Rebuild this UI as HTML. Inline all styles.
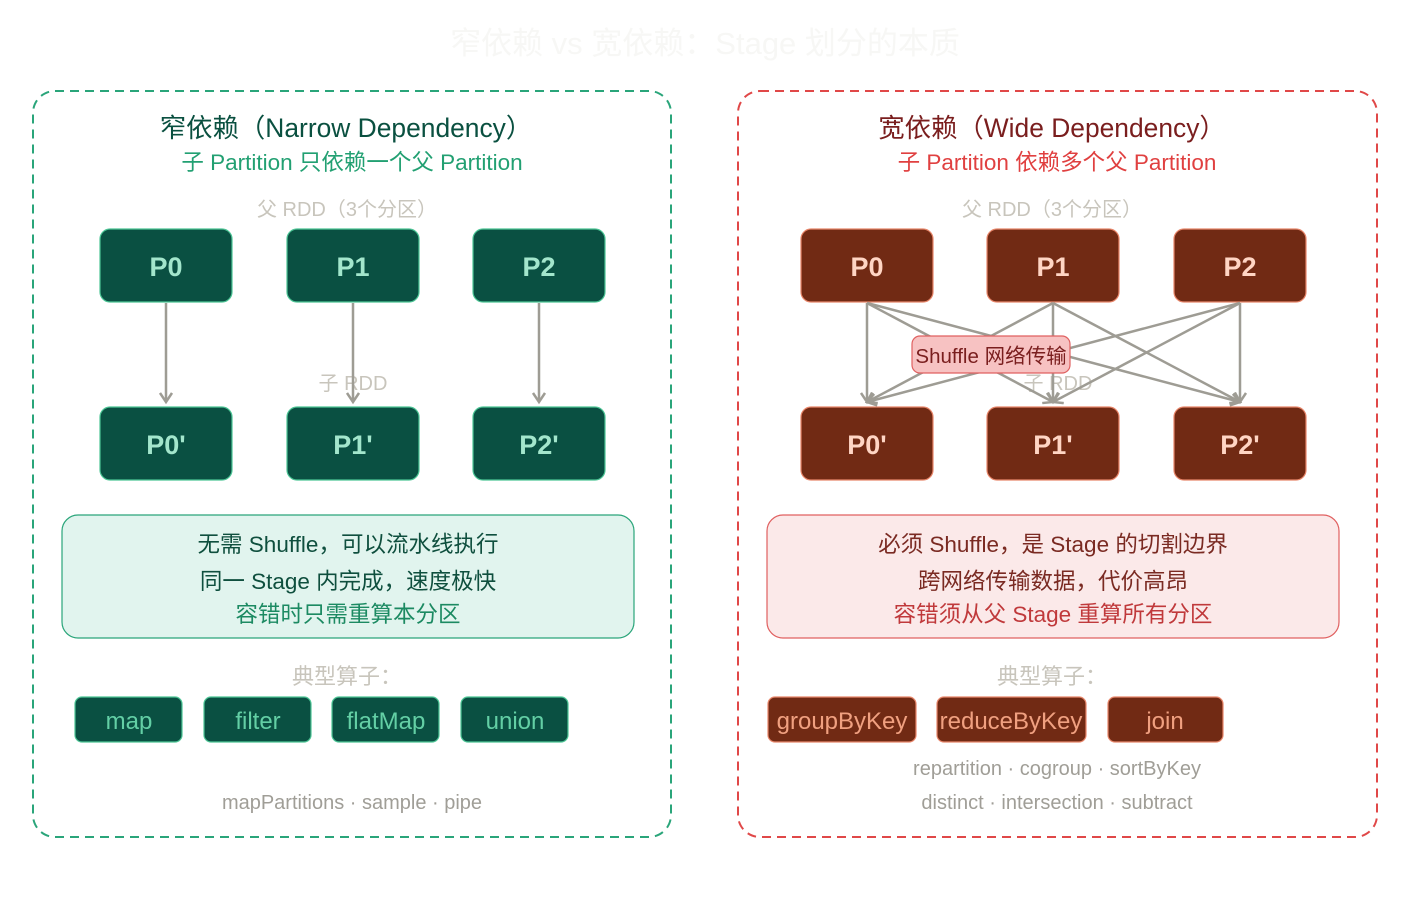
<!DOCTYPE html>
<html><head><meta charset="utf-8"><style>
html,body{margin:0;padding:0;background:#fff;}
svg{display:block;font-family:"Liberation Sans","Noto Sans CJK SC",sans-serif;}
</style></head><body>
<svg width="1410" height="912" viewBox="0 0 1410 912" xmlns="http://www.w3.org/2000/svg">
<defs>
<marker id="ah" markerWidth="14" markerHeight="14" refX="10" refY="7" orient="auto" markerUnits="userSpaceOnUse">
<path d="M1,1 L10,7 L1,13" fill="none" stroke="#9e9c94" stroke-width="2.5"/>
</marker>
</defs>
<text x="705" y="54" text-anchor="middle" font-size="31" fill="#f7f7f5">窄依赖 vs 宽依赖：Stage 划分的本质</text>

<!-- LEFT -->
<rect x="33" y="91" width="638" height="746" rx="22" fill="none" stroke="#2aa57a" stroke-width="2" stroke-dasharray="9,6"/>
<text x="346" y="137" text-anchor="middle" font-size="26.4" fill="#0a5040">窄依赖（Narrow Dependency）</text>
<text x="352" y="170" text-anchor="middle" font-size="22.5" fill="#22a072">子 Partition 只依赖一个父 Partition</text>
<text x="347" y="216" text-anchor="middle" font-size="20" fill="#c8c5bc">父 RDD（3个分区）</text>
<g fill="#0a5042" stroke="#4cc595" stroke-width="1.2">
<rect x="100" y="229" width="132" height="73" rx="10"/><rect x="287" y="229" width="132" height="73" rx="10"/><rect x="473" y="229" width="132" height="73" rx="10"/>
<rect x="100" y="407" width="132" height="73" rx="10"/><rect x="287" y="407" width="132" height="73" rx="10"/><rect x="473" y="407" width="132" height="73" rx="10"/>
</g>
<g font-size="27" font-weight="bold" fill="#a3e6cc" text-anchor="middle">
<text x="166" y="276">P0</text><text x="353" y="276">P1</text><text x="539" y="276">P2</text>
<text x="166" y="454">P0'</text><text x="353" y="454">P1'</text><text x="539" y="454">P2'</text>
</g>
<text x="353" y="390" text-anchor="middle" font-size="20" fill="#c8c5bc">子 RDD</text>
<g stroke="#9e9c94" stroke-width="2.5" marker-end="url(#ah)">
<line x1="166" y1="303" x2="166" y2="402"/><line x1="353" y1="303" x2="353" y2="402"/><line x1="539" y1="303" x2="539" y2="402"/>
</g>
<rect x="62" y="515" width="572" height="123" rx="16" fill="#e1f4ee" stroke="#2aa57a" stroke-width="1.2"/>
<g font-size="22.5" text-anchor="middle">
<text x="348" y="552" fill="#0f4f3e">无需 Shuffle，可以流水线执行</text>
<text x="348" y="589" fill="#0f4f3e">同一 Stage 内完成，速度极快</text>
<text x="348" y="622" fill="#1c8a62">容错时只需重算本分区</text>
</g>
<text x="347" y="684" text-anchor="middle" font-size="22" fill="#c8c5bc">典型算子：</text>
<g fill="#0a5042" stroke="#4cc595" stroke-width="1.2">
<rect x="75" y="697" width="107" height="45" rx="7"/><rect x="204" y="697" width="107" height="45" rx="7"/><rect x="332" y="697" width="107" height="45" rx="7"/><rect x="461" y="697" width="107" height="45" rx="7"/>
</g>
<g font-size="24" fill="#63cfa5" text-anchor="middle">
<text x="129" y="729">map</text><text x="258" y="729">filter</text><text x="386" y="729">flatMap</text><text x="515" y="729">union</text>
</g>
<text x="352" y="809" text-anchor="middle" font-size="20" fill="#a09e97">mapPartitions · sample · pipe</text>

<!-- RIGHT -->
<rect x="738" y="91" width="639" height="746" rx="22" fill="none" stroke="#e04848" stroke-width="2" stroke-dasharray="9,6"/>
<text x="1052" y="137" text-anchor="middle" font-size="26.4" fill="#7a1e1e">宽依赖（Wide Dependency）</text>
<text x="1057" y="170" text-anchor="middle" font-size="22.5" fill="#e04040">子 Partition 依赖多个父 Partition</text>
<text x="1052" y="216" text-anchor="middle" font-size="20" fill="#c8c5bc">父 RDD（3个分区）</text>
<g fill="#712a14" stroke="#e8866a" stroke-width="1.2">
<rect x="801" y="229" width="132" height="73" rx="10"/><rect x="987" y="229" width="132" height="73" rx="10"/><rect x="1174" y="229" width="132" height="73" rx="10"/>
<rect x="801" y="407" width="132" height="73" rx="10"/><rect x="987" y="407" width="132" height="73" rx="10"/><rect x="1174" y="407" width="132" height="73" rx="10"/>
</g>
<g font-size="27" font-weight="bold" fill="#ffd5c4" text-anchor="middle">
<text x="867" y="276">P0</text><text x="1053" y="276">P1</text><text x="1240" y="276">P2</text>
<text x="867" y="454">P0'</text><text x="1053" y="454">P1'</text><text x="1240" y="454">P2'</text>
</g>
<text x="1058" y="390" text-anchor="middle" font-size="20" fill="#c8c5bc">子 RDD</text>
<g stroke="#9e9c94" stroke-width="2.5" marker-end="url(#ah)">
<line x1="867" y1="303" x2="867" y2="402"/><line x1="867" y1="303" x2="1053" y2="402"/><line x1="867" y1="303" x2="1240" y2="402"/>
<line x1="1053" y1="303" x2="867" y2="402"/><line x1="1053" y1="303" x2="1053" y2="402"/><line x1="1053" y1="303" x2="1240" y2="402"/>
<line x1="1240" y1="303" x2="867" y2="402"/><line x1="1240" y1="303" x2="1053" y2="402"/><line x1="1240" y1="303" x2="1240" y2="402"/>
</g>
<rect x="912" y="336" width="158" height="37" rx="8" fill="#f7c2c2" stroke="#e06060" stroke-width="1.2"/>
<text x="991" y="363" text-anchor="middle" font-size="20.5" fill="#7a1e1e">Shuffle 网络传输</text>
<rect x="767" y="515" width="572" height="123" rx="16" fill="#fbe9e9" stroke="#e06060" stroke-width="1.2"/>
<g font-size="22.5" text-anchor="middle">
<text x="1053" y="552" fill="#7a2a22">必须 Shuffle，是 Stage 的切割边界</text>
<text x="1053" y="589" fill="#7a2a22">跨网络传输数据，代价高昂</text>
<text x="1053" y="622" fill="#c0393b">容错须从父 Stage 重算所有分区</text>
</g>
<text x="1052" y="684" text-anchor="middle" font-size="22" fill="#c8c5bc">典型算子：</text>
<g fill="#712a14" stroke="#e8866a" stroke-width="1.2">
<rect x="768" y="697" width="148" height="45" rx="7"/><rect x="937" y="697" width="149" height="45" rx="7"/><rect x="1108" y="697" width="115" height="45" rx="7"/>
</g>
<g font-size="24" fill="#f0a080" text-anchor="middle">
<text x="842" y="729">groupByKey</text><text x="1011" y="729">reduceByKey</text><text x="1165" y="729">join</text>
</g>
<text x="1057" y="775" text-anchor="middle" font-size="20" fill="#a09e97">repartition · cogroup · sortByKey</text>
<text x="1057" y="809" text-anchor="middle" font-size="20" fill="#a09e97">distinct · intersection · subtract</text>
</svg>
</body></html>
